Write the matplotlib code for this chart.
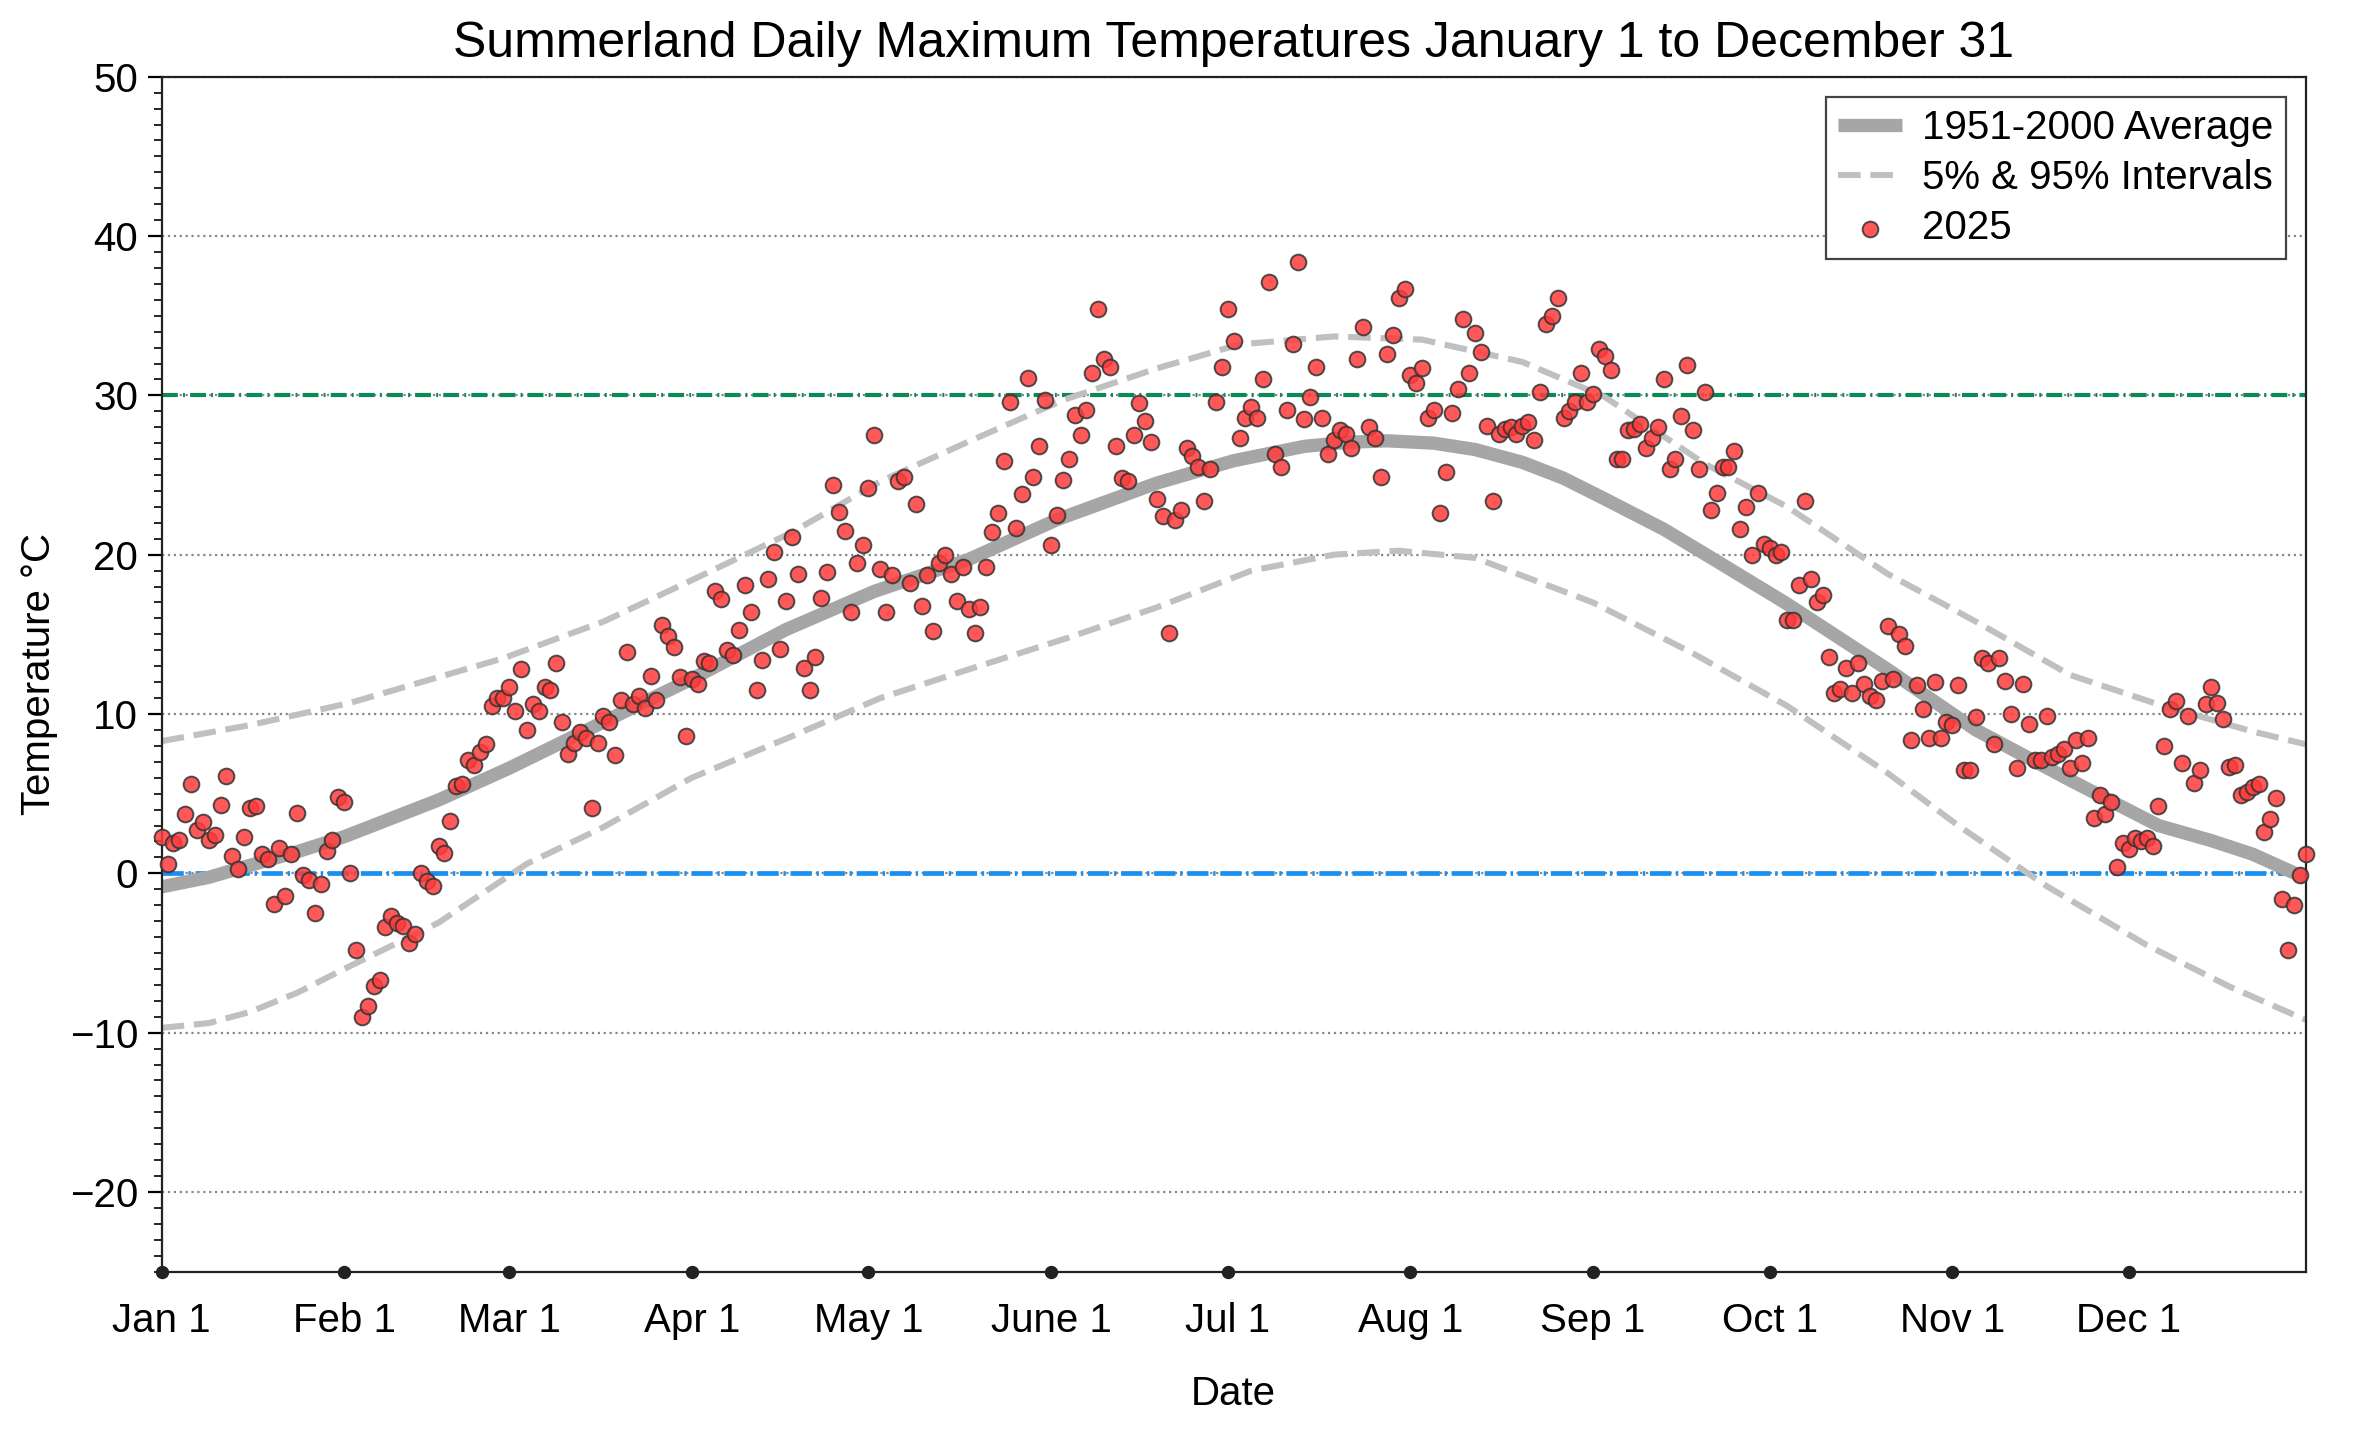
import numpy as np
import matplotlib
matplotlib.use("Agg")
import matplotlib.pyplot as plt

plt.rcParams['font.family'] = ['Liberation Sans', 'DejaVu Sans']

# day of year (0 = Jan 1) for month starts, 2025
month_days = [0, 31, 59, 90, 120, 151, 181, 212, 243, 273, 304, 334]
month_labels = ["Jan 1", "Feb 1", "Mar 1", "Apr 1", "May 1", "June 1",
                "Jul 1", "Aug 1", "Sep 1", "Oct 1", "Nov 1", "Dec 1"]

# 2025 daily max temperatures, Jan 1 .. Dec 31
temps_2025 = [
    2.3, 0.6, 1.9, 2.1, 3.7, 5.6, 2.7, 3.2, 2.1, 2.4, 4.3, 6.1, 1.1, 0.3, 2.3, 4.1,
    4.2, 1.2, 0.9, -1.9, 1.6, -1.4, 1.2, 3.8, -0.1, -0.4, -2.5, -0.7, 1.4, 2.1, 4.8,
    4.5, 0.0, -4.8, -9.0, -8.3, -7.1, -6.7, -3.4, -2.7, -3.1, -3.3, -4.4, -3.8, 0.0,
    -0.5, -0.8, 1.7, 1.3, 3.3, 5.5, 5.6, 7.1, 6.8, 7.6, 8.1, 10.5, 11.0, 11.0,
    11.7, 10.2, 12.8, 9.0, 10.6, 10.2, 11.7, 11.5, 13.2, 9.5, 7.5, 8.2, 8.9, 8.5,
    4.1, 8.2, 9.9, 9.5, 7.4, 10.9, 13.9, 10.6, 11.1, 10.4, 12.4, 10.9, 15.6, 14.9,
    14.2, 12.3, 8.6,
    12.2, 11.9, 13.3, 13.2, 17.7, 17.2, 14.0, 13.7, 15.3, 18.1, 16.4, 11.5, 13.4,
    18.5, 20.2, 14.1, 17.1, 21.1, 18.8, 12.9, 11.5, 13.6, 17.3, 18.9, 24.4, 22.7,
    21.5, 16.4, 19.5, 20.6,
    24.2, 27.5, 19.1, 16.4, 18.7, 24.6, 24.9, 18.2, 23.2, 16.8, 18.7, 15.2, 19.5,
    20.0, 18.8, 17.1, 19.2, 16.6, 15.1, 16.7, 19.2, 21.4, 22.6, 25.9, 29.6, 21.7,
    23.8, 31.1, 24.9, 26.8, 29.7,
    20.6, 22.5, 24.7, 26.0, 28.8, 27.5, 29.1, 31.4, 35.4, 32.3, 31.8, 26.8, 24.8,
    24.6, 27.5, 29.5, 28.4, 27.1, 23.5, 22.4, 15.1, 22.2, 22.8, 26.7, 26.2, 25.5,
    23.4, 25.4, 29.6, 31.8,
    35.4, 33.4, 27.3, 28.6, 29.3, 28.6, 31.0, 37.1, 26.3, 25.5, 29.1, 33.2, 38.4,
    28.5, 29.9, 31.8, 28.6, 26.3, 27.2, 27.8, 27.6, 26.7, 32.3, 34.3, 28.0, 27.3,
    24.9, 32.6, 33.8, 36.1, 36.7,
    31.3, 30.8, 31.7, 28.6, 29.1, 22.6, 25.2, 28.9, 30.4, 34.8, 31.4, 33.9, 32.7,
    28.1, 23.4, 27.6, 27.9, 28.0, 27.6, 28.1, 28.3, 27.2, 30.2, 34.5, 35.0, 36.1,
    28.6, 29.0, 29.6, 31.4, 29.6,
    30.1, 32.9, 32.5, 31.6, 26.0, 26.0, 27.8, 27.9, 28.2, 26.7, 27.3, 28.0, 31.0,
    25.4, 26.0, 28.7, 31.9, 27.8, 25.4, 30.2, 22.8, 23.9, 25.5, 25.5, 26.5, 21.6,
    23.0, 20.0, 23.9, 20.7,
    20.4, 20.0, 20.2, 15.9, 15.9, 18.1, 23.4, 18.5, 17.0, 17.5, 13.6, 11.3, 11.6,
    12.9, 11.3, 13.2, 11.9, 11.1, 10.9, 12.1, 15.5, 12.2, 15.0, 14.3, 8.4, 11.8,
    10.3, 8.5, 12.0, 8.5, 9.5,
    9.3, 11.8, 6.5, 6.5, 9.8, 13.5, 13.2, 8.1, 13.5, 12.1, 10.0, 6.6, 11.9, 9.4,
    7.1, 7.1, 9.9, 7.3, 7.5, 7.8, 6.6, 8.4, 6.9, 8.5, 3.5, 4.9, 3.7, 4.5, 0.4, 1.9,
    1.5, 2.2, 2.0, 2.2, 1.7, 4.2, 8.0, 10.3, 10.8, 6.9, 9.9, 5.7, 6.5, 10.6, 11.7,
    10.7, 9.7, 6.7, 6.8, 4.9, 5.1, 5.4, 5.6, 2.6, 3.4, 4.7, -1.6, -4.8, -2.0, -0.1,
    1.2,
]

# 1951-2000 average
avg_days = [0, 8, 15, 23, 31, 47, 59, 75, 90, 106, 121, 137, 152, 169, 182, 194,
            201, 208, 216, 223, 231, 238, 245, 255, 264, 276, 293, 308, 324, 339,
            348, 355, 364]
avg_vals = [-0.85, -0.25, 0.5, 1.35, 2.3, 4.6, 6.6, 9.5, 12.2, 15.3, 17.7, 19.7,
            22.2, 24.5, 25.9, 26.8, 27.05, 27.15, 27.0, 26.6, 25.8, 24.8, 23.5,
            21.6, 19.6, 16.9, 12.8, 9.0, 5.85, 3.0, 2.05, 1.2, -0.3]

# 95% interval
hi_days = [0, 15, 32, 58, 75, 90, 107, 122, 137, 153, 169, 183, 199, 214, 231,
           245, 262, 276, 293, 308, 324, 339, 355, 364]
hi_vals = [8.3, 9.3, 10.7, 13.5, 15.8, 18.4, 21.4, 24.6, 27.1, 29.7, 31.7, 33.2,
           33.7, 33.5, 32.1, 29.9, 25.7, 23.0, 18.8, 15.8, 12.45, 10.6, 8.9, 8.1]

# 5% interval
lo_days = [0, 8, 15, 23, 31, 47, 62, 75, 90, 107, 122, 137, 154, 169, 185, 199,
           210, 223, 243, 260, 276, 293, 305, 320, 337, 351, 364]
lo_vals = [-9.7, -9.4, -8.7, -7.5, -6.0, -3.1, 0.6, 2.9, 6.0, 8.6, 11.0, 12.8,
           14.8, 16.7, 19.0, 20.0, 20.25, 19.8, 17.0, 13.8, 10.5, 6.3, 3.0, -0.8,
           -4.5, -7.1, -9.2]


def main():
    days = np.arange(len(temps_2025))
    fig = plt.figure(figsize=(11.8, 7.16), dpi=200)
    ax = fig.add_axes([0.0685, 0.112, 0.9085, 0.8344])

    ax.grid(axis="y", which="major", linestyle=":", color="#888888", linewidth=0.8)
    ax.axhline(30, color="#0a8a55", linewidth=1.5, linestyle=(0, (3.8, 1.25, 0.45, 1.25)))
    ax.axhline(0, color="#1a8fef", linewidth=1.7, linestyle=(0, (4.5, 1.0, 0.5, 1.0)))

    ax.plot(avg_days, avg_vals, color="#a6a6a6", linewidth=4.8,
            solid_capstyle="butt", solid_joinstyle="round", label="1951-2000 Average")
    ax.plot(hi_days, hi_vals, color="#c0c0c0", linewidth=2.2, linestyle="--",
            label="5% & 95% Intervals")
    ax.plot(lo_days, lo_vals, color="#c0c0c0", linewidth=2.2, linestyle="--")
    ax.scatter(days, temps_2025, s=32, color="#ff3b3b", alpha=0.85,
               edgecolors="#333333", linewidths=0.7, zorder=5, label="2025",
               clip_on=False)

    ax.set_xlim(0, 364)
    ax.set_ylim(-25, 50)
    ax.set_xticks(month_days)
    ax.set_xticklabels(month_labels)
    ax.set_yticks(range(-20, 51, 10))
    ax.set_yticks(range(-25, 51), minor=True)
    ax.tick_params(axis="y", which="major", length=5, width=0.8, labelsize=14.5)
    ax.tick_params(axis="y", which="minor", length=3, width=0.6)
    ax.tick_params(axis="x", length=0, pad=11, labelsize=14.5)

    # round dots on the bottom spine at each month start
    bottom = ax.get_ylim()[0]
    ax.plot(month_days, [bottom] * len(month_days), "o", color="#222222",
            markersize=3.8, clip_on=False, zorder=6)

    for sp in ax.spines.values():
        sp.set_linewidth(0.8)
        sp.set_color("#222222")

    ax.set_title("Summerland Daily Maximum Temperatures January 1 to December 31",
                 fontsize=18, pad=7)
    ax.set_xlabel("Date", fontsize=14.5, labelpad=12.5)
    ax.set_ylabel("Temperature \u00b0C", fontsize=14.5, labelpad=4)

    leg = ax.legend(loc="upper right", fontsize=14.5, fancybox=False,
                    edgecolor="#444444", framealpha=1, borderaxespad=0.5,
                    handlelength=1.6, handletextpad=0.5, borderpad=0.3,
                    labelspacing=0.3)
    leg.get_frame().set_linewidth(0.8)

    fig.savefig("out.png", dpi=200)


if __name__ == '__main__':
    main()
